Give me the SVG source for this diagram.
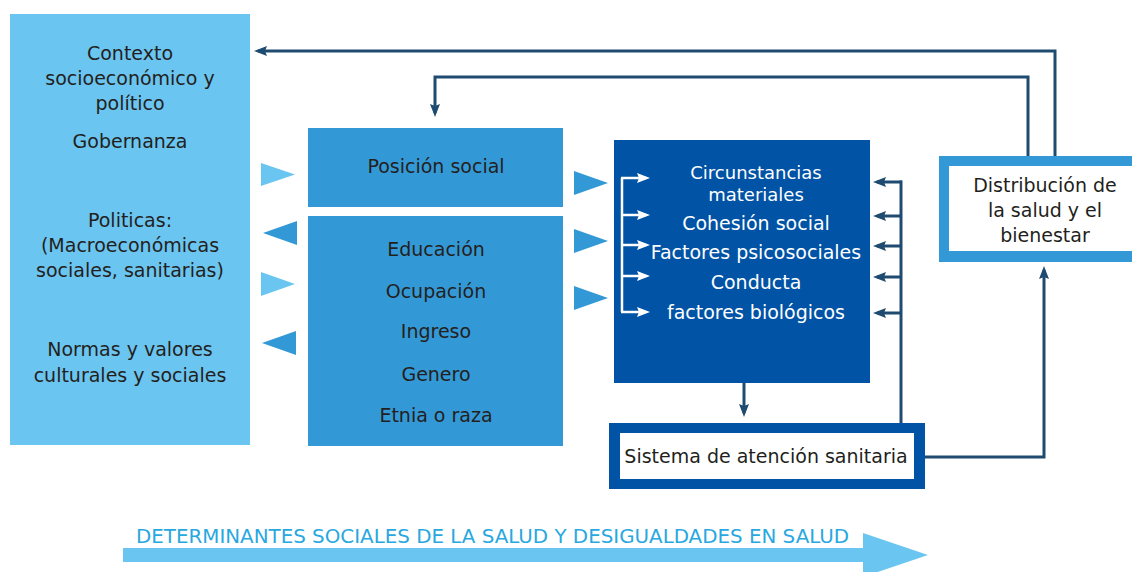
<svg xmlns="http://www.w3.org/2000/svg" width="1132" height="572" viewBox="0 0 1132 572">
<style>
.t{font-family:"DejaVu Sans","Liberation Sans",sans-serif;font-size:19px;fill:#231F20;text-anchor:middle}
.w{fill:#FFFFFF}
.s{font-size:18px}
.c{fill:none;stroke:#1F4B70;stroke-width:3}
.b{fill:none;stroke:#FFFFFF;stroke-width:2.5}
.lt{fill:#6BC5F1}
.md{fill:#3399D6}
</style>
<defs>
<marker id="ah" markerWidth="13" markerHeight="10" refX="9" refY="5" orient="auto" markerUnits="userSpaceOnUse">
<path d="M0,0 L13,5 L0,10 L2,5 z" fill="#1F4B70"/>
</marker>
<marker id="aw" markerWidth="13" markerHeight="10" refX="9" refY="5" orient="auto" markerUnits="userSpaceOnUse">
<path d="M0,0 L13,5 L0,10 L2,5 z" fill="#FFFFFF"/>
</marker>
</defs>
<rect width="1132" height="572" fill="#FFFFFF"/>

<g id="contexto">
<rect x="10" y="14" width="240" height="431" class="lt"/>
<text class="t" x="130" y="60">Contexto</text>
<text class="t" x="130" y="85">socioeconómico y</text>
<text class="t" x="130" y="110">político</text>
<text class="t" x="130" y="148">Gobernanza</text>
<text class="t" x="130" y="227">Politicas:</text>
<text class="t" x="130" y="252">(Macroeconómicas</text>
<text class="t" x="130" y="277">sociales, sanitarias)</text>
<text class="t" x="130" y="356">Normas y valores</text>
<text class="t" x="130" y="382">culturales y sociales</text>
</g>

<g id="triangulos">
<polygon points="261,163 295,174.5 261,186" class="lt"/>
<polygon points="297,221 263,233 297,245" class="md"/>
<polygon points="261,272 295,284 261,296" class="lt"/>
<polygon points="296,331 262,343 296,355" class="md"/>
<polygon points="574,171 608,183 574,195" class="md"/>
<polygon points="574,229 608,241 574,253" class="md"/>
<polygon points="574,286 608,298 574,310" class="md"/>
</g>

<g id="posicion">
<rect x="308" y="128" width="255" height="79" class="md"/>
<text class="t" x="436" y="173">Posición social</text>
</g>

<g id="estratificadores">
<rect x="308" y="216" width="255" height="230" class="md"/>
<text class="t" x="436" y="256">Educación</text>
<text class="t" x="436" y="298">Ocupación</text>
<text class="t" x="436" y="338">Ingreso</text>
<text class="t" x="436" y="381">Genero</text>
<text class="t" x="436" y="422">Etnia o raza</text>
</g>

<g id="intermedios">
<rect x="614" y="140" width="256" height="243" fill="#0053A5"/>
<text class="t w s" x="756" y="179">Circunstancias<tspan x="756" dy="22">materiales</tspan></text>
<text class="t w" x="756" y="230">Cohesión social</text>
<text class="t w" x="756" y="259">Factores psicosociales</text>
<text class="t w" x="756" y="289">Conducta</text>
<text class="t w" x="756" y="319">factores biológicos</text>
<path class="b" d="M622,178 V312"/>
<path class="b" d="M621,178 H646" marker-end="url(#aw)"/>
<path class="b" d="M621,215 H646" marker-end="url(#aw)"/>
<path class="b" d="M621,245 H646" marker-end="url(#aw)"/>
<path class="b" d="M621,276 H646" marker-end="url(#aw)"/>
<path class="b" d="M621,312 H646" marker-end="url(#aw)"/>
</g>

<g id="sistema">
<rect x="609" y="423" width="316" height="66" fill="#0053A5"/>
<rect x="620" y="433" width="294" height="46" fill="#FFFFFF"/>
<text class="t" x="766" y="463">Sistema de atención sanitaria</text>
</g>

<g id="distribucion">
<rect x="939" y="156" width="200" height="106" class="md"/>
<rect x="949" y="166" width="200" height="85" fill="#FFFFFF"/>
<text class="t" x="1045" y="192">Distribución de</text>
<text class="t" x="1045" y="217">la salud y el</text>
<text class="t" x="1045" y="242">bienestar</text>
</g>

<g id="connectors">
<path class="c" d="M1055,156 V51 H258" marker-end="url(#ah)"/>
<path class="c" d="M1028,156 V77 H435 V113" marker-end="url(#ah)"/>
<path class="c" d="M925,457 H1044 V270" marker-end="url(#ah)"/>
<path class="c" d="M744,383 V413" marker-end="url(#ah)"/>
<path class="c" d="M901,423 V180.5"/>
<path class="c" d="M902,182 H877" marker-end="url(#ah)"/>
<path class="c" d="M902,216 H877" marker-end="url(#ah)"/>
<path class="c" d="M902,246 H877" marker-end="url(#ah)"/>
<path class="c" d="M902,277 H877" marker-end="url(#ah)"/>
<path class="c" d="M902,313 H877" marker-end="url(#ah)"/>
</g>

<g id="banner">
<rect x="123" y="548" width="741" height="14" class="lt"/>
<polygon points="863,533 928,555 863,577" class="lt"/>
<text x="136" y="543" textLength="713" lengthAdjust="spacingAndGlyphs" style="font-family:'DejaVu Sans Condensed','Liberation Sans',sans-serif;font-size:19px;fill:#29A8E0">DETERMINANTES SOCIALES DE LA SALUD Y DESIGUALDADES EN SALUD</text>
</g>
</svg>
